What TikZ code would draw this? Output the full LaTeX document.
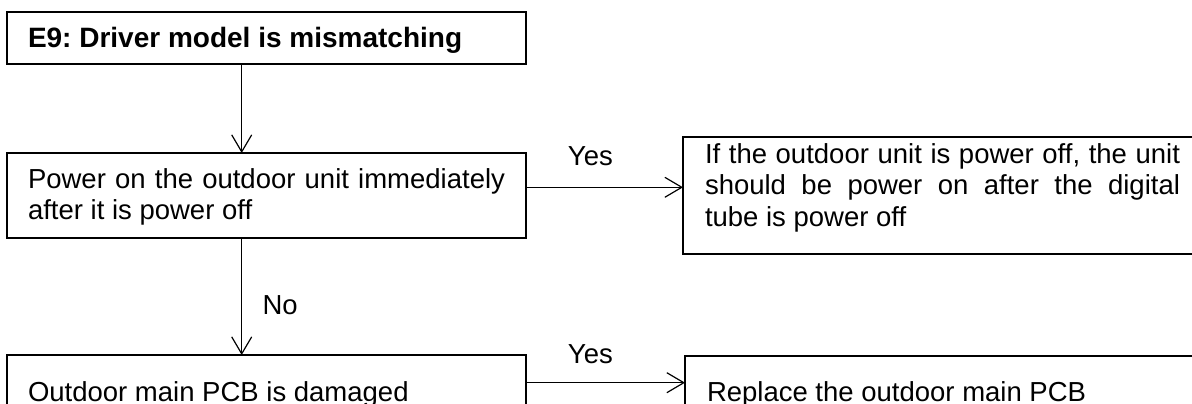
\documentclass[tikz,border=0pt]{standalone}
\usepackage{fontspec}
\setmainfont{Liberation Sans}
\usetikzlibrary{arrows.meta}
\newcommand{\jline}[2]{\hbox to #1{\spaceskip=0.278em plus 1fil\relax #2}}
\begin{document}
\begin{tikzpicture}[x=1pt,y=-1pt,
  txt/.style={font=\fontsize{27.5}{31.5}\selectfont\frenchspacing},
  box/.style={txt, draw, line width=1.2pt, rectangle, anchor=north west, outer sep=0pt,
    inner xsep=21pt, inner ysep=0pt, align=justify, minimum width=519pt, text width=477pt},
  arr/.style={line width=1.2pt, -{Straight Barb[length=17pt,width=20pt]}},
  lbl/.style={txt, inner sep=0pt}]
\clip (0,0) rectangle (1192,404);
% left column
\node[box, minimum height=52pt, text height=20pt, text depth=0pt,
  font=\fontsize{28}{31.5}\selectfont\frenchspacing\bfseries] (e9) at (7,12) {E9: Driver model is mismatching};
\node[box, minimum height=85pt, text height=20pt, text depth=35pt] (pw) at (7,153)
  {\jline{477pt}{Power on the outdoor unit immediately}\\after it is power off};
\node[box, minimum height=73.4pt, text height=20pt, text depth=0pt] (pcb) at (7,355)
  {Outdoor main PCB is damaged};
% right column
\node[box, inner xsep=22pt, text width=475pt, minimum height=117pt, text height=20pt, text depth=85pt] (r1) at (683,137)
  {\jline{475pt}{If the outdoor unit is power off, the unit}\\
   \jline{475pt}{should be power on after the digital}\\
   tube is power off};
\node[box, inner xsep=22pt, text width=475pt, minimum height=70pt, text height=20pt, text depth=0pt] (r2) at (685,356)
  {Replace the outdoor main PCB};
% connectors
\draw[arr] ([xshift=234.7pt]e9.south west) -- ([xshift=234.7pt]pw.north west);
\draw[arr] ([xshift=234.7pt]pw.south west) --
  node[lbl, pos=0.65, anchor=base west, xshift=20.3pt] (no) {No}
  ([xshift=234.7pt]pcb.north west);
\draw[arr] ([yshift=8.2pt]pw.east) --
  node[lbl, pos=0.41, anchor=base, yshift=22.3pt] (yes1) {Yes}
  ([yshift=8.2pt]pw.east -| r1.west);
\draw[arr] ([yshift=9pt]pcb.east) --
  node[lbl, pos=0.405, anchor=base, yshift=19.7pt] (yes2) {Yes}
  ([yshift=9pt]pcb.east -| r2.west);
\end{tikzpicture}
\end{document}
